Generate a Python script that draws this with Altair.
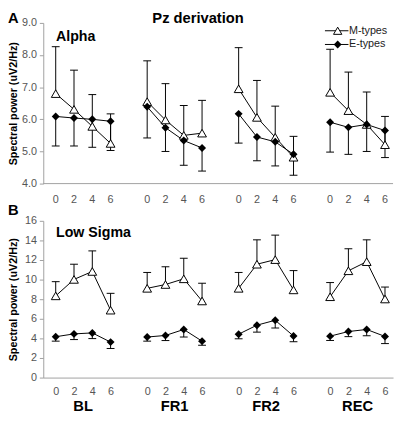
import altair as alt
import pandas as pd

# ---------------- data ----------------
groups = ["BL", "FR1", "FR2", "REC"]
hours = [0, 2, 4, 6]
series = ["M-types", "E-types"]

# Panel A: Alpha (means and error-bar ends; M bars go up, E bars go down)
alpha_m = [6.80, 6.31, 5.78, 5.25, 6.55, 5.98, 5.50, 5.57, 6.95, 6.06, 5.44, 4.82, 6.84, 6.27, 5.84, 5.21]
alpha_m_top = [8.26, 7.53, 6.77, 6.17, 7.82, 7.11, 6.43, 6.59, 8.23, 7.21, 6.41, 5.47, 8.18, 7.47, 6.85, 6.09]
alpha_e = [6.09, 6.04, 6.00, 5.94, 6.39, 5.74, 5.34, 5.11, 6.17, 5.45, 5.30, 4.91, 5.91, 5.75, 5.84, 5.65]
alpha_e_bot = [5.17, 5.17, 5.13, 5.03, 5.42, 5.00, 4.57, 4.39, 5.26, 4.71, 4.55, 4.26, 4.98, 4.91, 5.00, 4.81]

# Panel B: Low Sigma
sigma_m = [8.34, 10.02, 10.83, 6.88, 9.11, 9.50, 10.08, 7.82, 9.11, 11.57, 12.04, 8.95, 8.25, 10.90, 11.83, 8.02]
sigma_m_top = [9.79, 11.57, 12.93, 8.60, 10.73, 11.31, 12.18, 9.63, 10.73, 14.06, 14.54, 10.92, 9.70, 13.15, 14.06, 9.24]
sigma_e = [4.17, 4.46, 4.56, 3.62, 4.14, 4.30, 4.91, 3.72, 4.43, 5.35, 5.85, 4.24, 4.23, 4.70, 4.91, 4.20]
sigma_e_bot = [3.72, 3.88, 3.98, 2.97, 3.72, 3.78, 4.14, 3.30, 3.96, 4.64, 5.06, 3.66, 3.79, 4.18, 4.27, 3.47]

alpha_ticks = [4, 5, 6, 7, 8, 9]
sigma_ticks = [0, 2, 4, 6, 8, 10, 12, 14, 16]

# ---------------- tables ----------------
def build(m, m_end, e, e_end):
    rows = []
    for gi, g in enumerate(groups):
        for hi, h in enumerate(hours):
            k = gi * len(hours) + hi
            pos = gi * 5 + hi
            rows.append(dict(group=g, hour=h, pos=pos, series=series[0],
                             value=m[k], end=m_end[k], key=f"{g}-M"))
            rows.append(dict(group=g, hour=h, pos=pos, series=series[1],
                             value=e[k], end=e_end[k], key=f"{g}-E"))
    return pd.DataFrame(rows)

dfA = build(alpha_m, alpha_m_top, alpha_e, alpha_e_bot)
dfB = build(sigma_m, sigma_m_top, sigma_e, sigma_e_bot)

tick_df = pd.DataFrame([dict(pos=gi * 5 + hi, label=str(h))
                        for gi in range(len(groups)) for hi, h in enumerate(hours)])
group_df = pd.DataFrame([dict(pos=gi * 5 + 1.5, group=g) for gi, g in enumerate(groups)])

FONT = "Liberation Sans"
W, H = 357, 362
AXC = "#a0a0a0"
LABC = "#555555"

X = alt.X("pos:Q",
          scale=alt.Scale(domain=[-0.68, 18.44], nice=False, zero=False),
          axis=alt.Axis(values=[v for v in tick_df["pos"]], labelExpr="'' + (datum.value % 5) * 2",
                        ticks=False, grid=False, domainColor=AXC, labelColor=LABC,
                        labelFontSize=11, labelPadding=8, labelFlush=False,
                        labelOverlap=False, title=None))


def panel(df, domain, rng, ticks, fmt, title_y):
    scale = alt.Scale(domain=domain, range=rng, nice=False, zero=False)
    axis = alt.Axis(values=ticks, format=fmt, orient="left", grid=False,
                    tickSize=4, tickColor=AXC, domainColor=AXC,
                    labelColor=LABC, labelFontSize=11, labelPadding=3,
                    title="Spectral power (uV2/Hz)", titleFontSize=11,
                    titleFontWeight="bold", titleColor="#000000",
                    titleAngle=270, titleX=-27.5, titleY=title_y,
                    titleBaseline="alphabetic", titleAlign="center")
    Yv = alt.Y("value:Q", scale=scale, axis=axis)
    Ye = alt.Y("end:Q", scale=scale, axis=axis)
    base = alt.Chart(df)
    bars = base.mark_rule(color="#000000", strokeWidth=1).encode(x=X, y=Yv, y2="end:Q")
    caps = base.mark_rule(color="#000000", strokeWidth=1, xOffset=-4, x2Offset=4).encode(
        x=X, x2="pos:Q", y=Ye)
    lines = base.mark_line(color="#000000", strokeWidth=1).encode(
        x=X, y=Yv, detail="key:N")
    pm = base.transform_filter(alt.datum.series == series[0]).mark_point(
        shape="triangle-up", size=80, fill="white", stroke="black",
        strokeWidth=1, opacity=1, fillOpacity=1).encode(x=X, y=Yv)
    pe = base.transform_filter(alt.datum.series == series[1]).mark_point(
        shape="diamond", size=66, filled=True, color="black", opacity=1).encode(x=X, y=Yv)
    return alt.layer(bars, caps, lines, pm, pe)


panelA = panel(dfA, [4, 9], [164, 0], alpha_ticks, ".1f", 82)
panelB = panel(dfB, [0, 16], [362, 202], sigma_ticks, "d", 282)

# Panel A category axis (baseline + hour labels)
a_base = alt.Chart(pd.DataFrame({"k": [0]})).mark_rule(color=AXC, strokeWidth=1).encode(
    x=alt.value(0), x2=alt.value(W), y=alt.value(164))
a_labels = alt.Chart(tick_df).mark_text(fontSize=11, color=LABC, baseline="top").encode(
    x=X, y=alt.value(175), text="label:N")
b_groups = alt.Chart(group_df).mark_text(fontSize=15, fontWeight="bold", color="#000000",
                                         baseline="alphabetic").encode(
    x=X, y=alt.value(396), text="group:N")


def label(txt, x, y, size, align="left", weight="bold", color="#000000", baseline="alphabetic"):
    return alt.Chart(pd.DataFrame({"t": [txt]})).mark_text(
        fontSize=size, fontWeight=weight, color=color, align=align, baseline=baseline).encode(
        x=alt.value(x), y=alt.value(y), text="t:N")


texts = [
    label("Pz derivation", 158, 0, 15, align="center"),
    label("A", -36, 0, 15),
    label("B", -36, 196, 15),
    label("Alpha", 13, 18, 14.5),
    label("Low Sigma", 13, 219, 14.5),
]

# Legend (manual, top right of panel A)
leg = []
for s, yy, shape in [(series[0], 8, "triangle-up"), (series[1], 22, "diamond")]:
    d = pd.DataFrame({"t": [s]})
    leg.append(alt.Chart(d).mark_rule(color="#000000", strokeWidth=1).encode(
        x=alt.value(287.5), x2=alt.value(311.5), y=alt.value(yy)))
    if shape == "triangle-up":
        leg.append(alt.Chart(d).mark_point(shape=shape, size=72, fill="white", stroke="black",
                                           strokeWidth=1, opacity=1, fillOpacity=1).encode(
            x=alt.value(300.5), y=alt.value(yy)))
    else:
        leg.append(alt.Chart(d).mark_point(shape=shape, size=64, filled=True, color="black",
                                           opacity=1).encode(
            x=alt.value(300.5), y=alt.value(yy)))
    leg.append(alt.Chart(d).mark_text(fontSize=11, color="#222222", align="left",
                                      baseline="middle").encode(
        x=alt.value(312), y=alt.value(yy), text="t:N"))

chart = alt.layer(panelA, panelB, a_base, a_labels, b_groups, *texts, *leg).resolve_scale(
    y="independent").resolve_axis(y="independent").properties(
    width=W, height=H,
    autosize=alt.AutoSizeParams(type="none"),
    padding={"left": 36, "top": 11, "right": 2, "bottom": 36},
).configure(font=FONT).configure_view(stroke=None)

chart.save("out.html", embed_options={"renderer": "svg", "actions": False})
